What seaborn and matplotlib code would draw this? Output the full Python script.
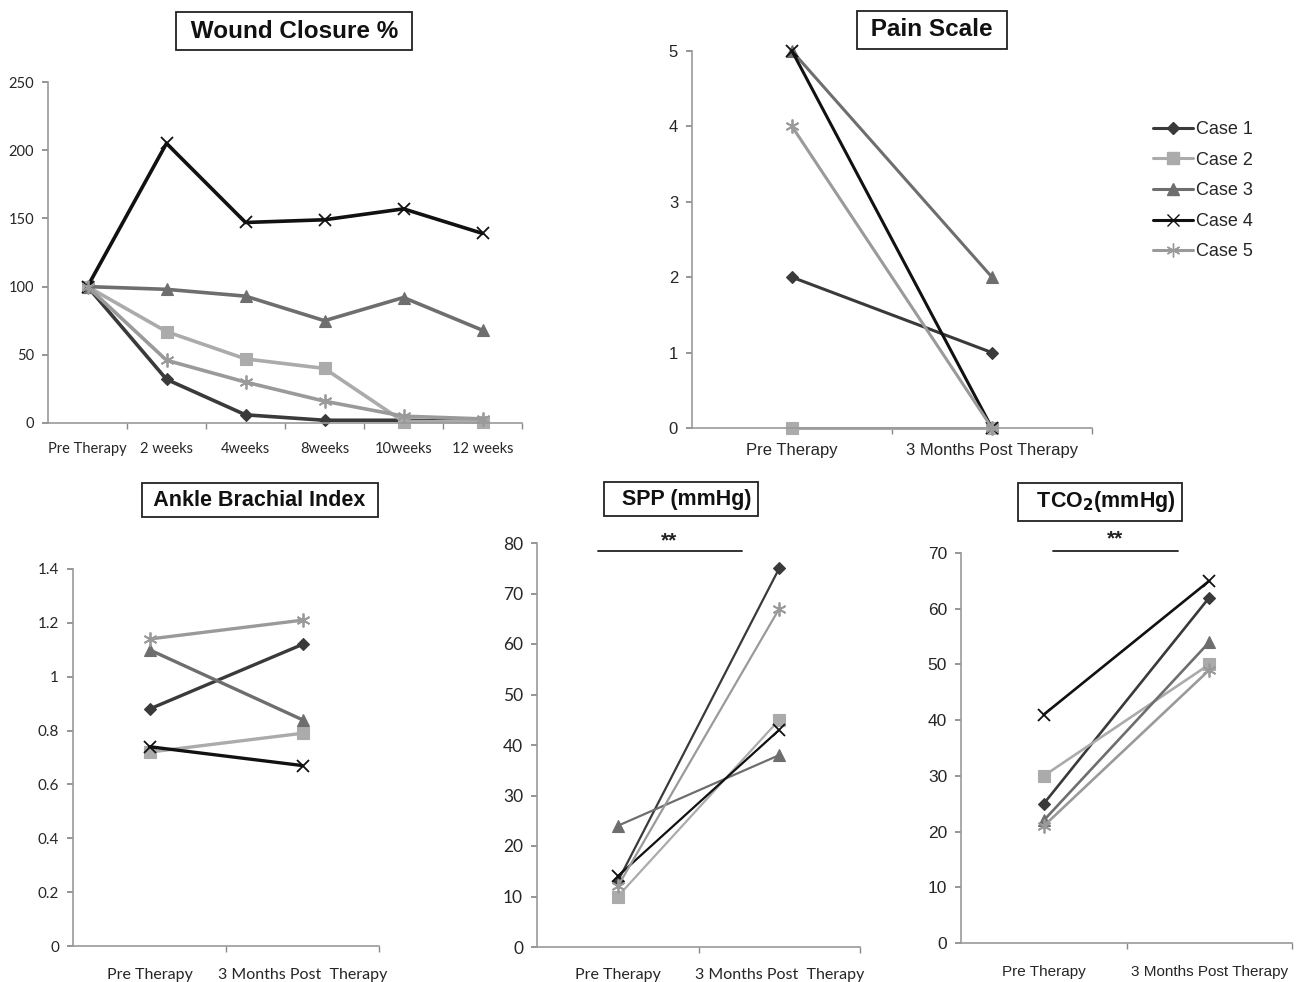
import matplotlib
matplotlib.use("Agg")
import matplotlib.pyplot as plt
import seaborn as sns
import pandas as pd
from matplotlib.lines import Line2D
from matplotlib.ticker import FixedLocator, NullFormatter

sns.set_theme(style="white")
plt.rcParams['font.family'] = ['Liberation Sans', 'DejaVu Sans']

cases = ["Case 1", "Case 2", "Case 3", "Case 4", "Case 5"]

wound_cats = ["Pre Therapy", "2 weeks", "4weeks", "8weeks", "10weeks", "12 weeks"]
wound_case1 = [100, 32, 6, 2, 2, 1]
wound_case2 = [100, 67, 47, 40, 1, 1]
wound_case3 = [100, 98, 93, 75, 92, 68]
wound_case4 = [100, 205, 147, 149, 157, 139]
wound_case5 = [100, 46, 30, 16, 5, 3]

two_cats = ["Pre Therapy", "3 Months Post Therapy"]
two_cats_b = ["Pre Therapy", "3 Months Post  Therapy"]
pain_vals = [[2, 1], [0, 0], [5, 2], [5, 0], [4, 0]]
abi_vals = [[0.88, 1.12], [0.72, 0.79], [1.10, 0.84], [0.74, 0.67], [1.14, 1.21]]
spp_vals = [[13, 75], [10, 45], [24, 38], [14, 43], [12, 67]]
tco2_vals = [[25, 62], [30, 50], [22, 54], [41, 65], [21, 49]]

colors = {"Case 1": "#3a3a3a", "Case 2": "#ababab", "Case 3": "#6e6e6e",
          "Case 4": "#111111", "Case 5": "#9a9a9a"}
markers = {"Case 1": "D", "Case 2": "s", "Case 3": "^", "Case 4": "x", "Case 5": (6, 2, 0)}
msizes = {"Case 1": 6, "Case 2": 8, "Case 3": 8, "Case 4": 9, "Case 5": 10}

W, H = 1301, 982
fig = plt.figure(figsize=(W / 100, H / 100), dpi=100)


def make_ax(left, right, top, bottom):
    return fig.add_axes([left / W, 1 - bottom / H, (right - left) / W, (bottom - top) / H])


def draw(ax, cats, series, lw, ylim, yticks, ytl, tickfont, tsize, xfont, xsize, xpad):
    for case, vals in zip(cases, series):
        df = pd.DataFrame({"x": cats, "y": vals})
        mk = markers[case]
        sns.lineplot(data=df, x="x", y="y", ax=ax, color=colors[case], lw=lw,
                     marker=mk, markersize=msizes[case],
                     markeredgecolor=colors[case],
                     markeredgewidth=1.3 if mk in ("x",) or isinstance(mk, tuple) else 0.8,
                     sort=False, clip_on=False)
    n = len(cats)
    ax.set_xlim(-0.5, n - 0.5)
    ax.set_ylim(*ylim)
    ax.set_yticks(yticks)
    ax.set_yticklabels(ytl, fontfamily=tickfont, fontsize=tsize)
    ax.set_xticks(range(n))
    ax.set_xticklabels(cats, fontfamily=xfont, fontsize=xsize)
    ax.xaxis.set_minor_locator(FixedLocator([i - 0.5 for i in range(1, n + 1)]))
    ax.xaxis.set_minor_formatter(NullFormatter())
    ax.tick_params(axis="x", which="major", length=0, pad=xpad)
    ax.tick_params(axis="x", which="minor", length=4, color="#888888", direction="out", bottom=True)
    ax.tick_params(axis="y", length=4, color="#888888", direction="out", left=True, pad=6)
    ax.set_xlabel("")
    ax.set_ylabel("")
    for s in ("top", "right"):
        ax.spines[s].set_visible(False)
    for s in ("left", "bottom"):
        ax.spines[s].set_color("#999999")
        ax.spines[s].set_linewidth(1.2)
    ax.set_facecolor("white")
    if ax.get_legend():
        ax.get_legend().remove()


def title_box(x, y, txt, size=14):
    fig.text(x / W, 1 - y / H, txt, ha="center", va="center", fontsize=size,
             fontweight="bold", fontfamily="Liberation Sans", color="#111111",
             bbox=dict(boxstyle="square,pad=0.3", fc="white", ec="#222222", lw=1.3))


# Wound closure
ax1 = make_ax(48, 522, 82, 423)
draw(ax1, wound_cats, [wound_case1, wound_case2, wound_case3, wound_case4, wound_case5],
     2.6, (0, 250), [0, 50, 100, 150, 200, 250], ["0", "50", "100", "150", "200", "250"],
     "Lato", 10.5, "Lato", 10.5, 14)
title_box(294, 31, " Wound Closure % ", 17.5)

# Pain scale
ax2 = make_ax(692, 1092, 51, 428)
draw(ax2, two_cats, pain_vals, 2.2, (0, 5), [0, 1, 2, 3, 4, 5],
     ["0", "1", "2", "3", "4", "5"], "Liberation Sans", 12, "Liberation Sans", 12, 11)
title_box(932, 30, " Pain Scale ", 17.5)

# Legend
handles = [Line2D([0], [0], color=colors[c], lw=2.2, marker=markers[c],
                  markersize=msizes[c], markeredgecolor=colors[c]) for c in cases]
fig.legend(handles, cases, loc="upper left", bbox_to_anchor=(1137 / W, 1 - 105 / H),
           frameon=False, handlelength=2.2, handletextpad=0.15,
           labelspacing=0.75, prop={"family": "Liberation Sans", "size": 13})

# ABI
ax3 = make_ax(73, 379, 569, 946)
draw(ax3, two_cats_b, abi_vals, 2.4, (0, 1.4), [0, 0.2, 0.4, 0.6, 0.8, 1.0, 1.2, 1.4],
     ["0", "0.2", "0.4", "0.6", "0.8", "1", "1.2", "1.4"], "Lato", 11, "Lato", 11.5, 16)
title_box(260, 500, " Ankle Brachial Index ", 15.5)

# SPP
ax4 = make_ax(537, 860, 543, 947)
draw(ax4, two_cats_b, spp_vals, 1.6, (0, 80), list(range(0, 81, 10)),
     [str(v) for v in range(0, 81, 10)], "Lato", 12.5, "Lato", 11.5, 15)
title_box(681, 499, "  SPP (mmHg)", 15.5)
ax4.plot([0.19, 0.635], [0.98, 0.98], transform=ax4.transAxes, color="#222222", lw=1.3, clip_on=False)
ax4.text(0.41, 1.005, "**", transform=ax4.transAxes, ha="center", va="center", fontsize=15,
         fontweight="bold", color="#222222")

# TCO2
ax5 = make_ax(961, 1292, 553, 943)
draw(ax5, two_cats, tco2_vals, 1.9, (0, 70), list(range(0, 71, 10)),
     [str(v) for v in range(0, 71, 10)], "Liberation Sans", 12.5, "Liberation Sans", 11, 16)
title_box(1100, 502, "  TCO$_\\mathbf{2}$(mmHg)", 15.5)
ax5.plot([0.278, 0.656], [1.005, 1.005], transform=ax5.transAxes, color="#222222", lw=1.3, clip_on=False)
ax5.text(0.465, 1.035, "**", transform=ax5.transAxes, ha="center", va="center", fontsize=15,
         fontweight="bold", color="#222222")

fig.savefig("out.png", dpi=100, facecolor="white")
